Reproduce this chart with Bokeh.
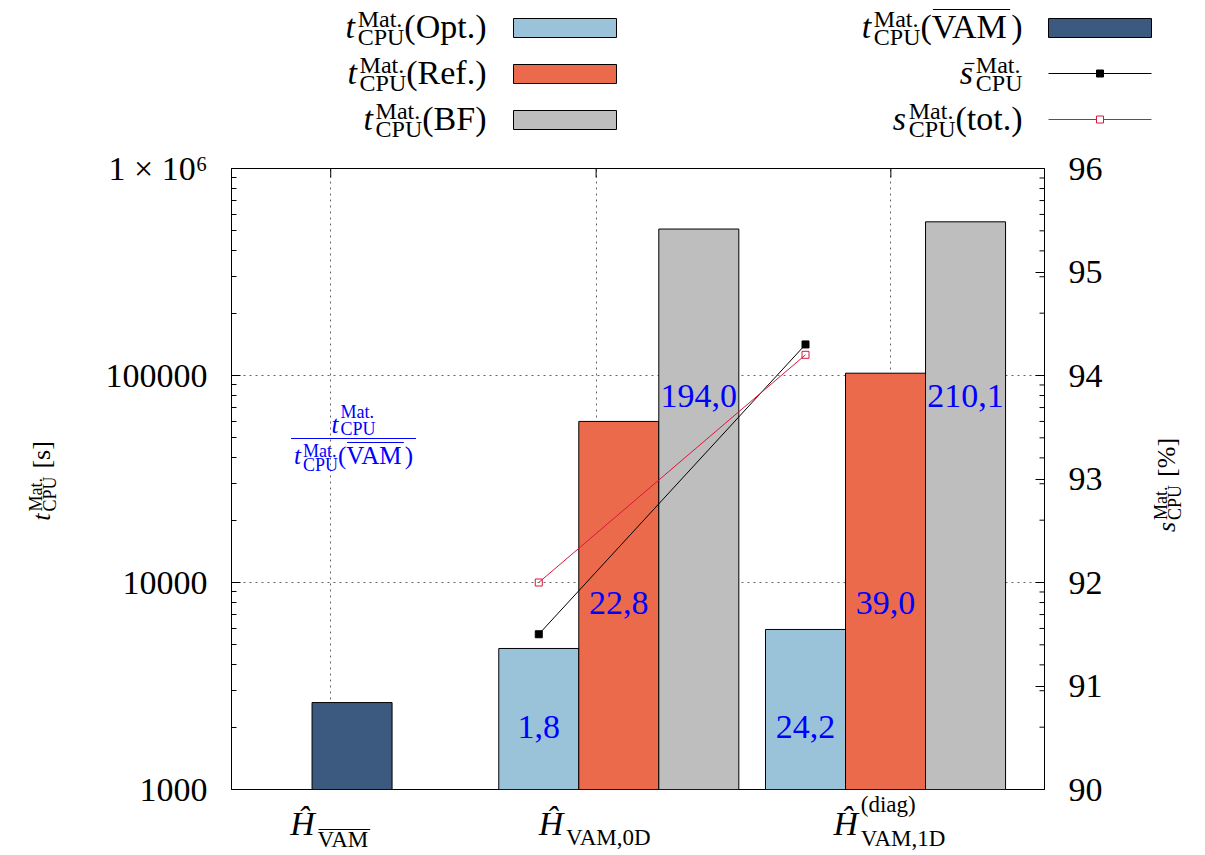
import math
from bokeh.plotting import figure
from bokeh.models import (Range1d, LinearAxis, FixedTicker, Grid, CustomJSTickFormatter,
                          LinearScale)
from bokeh.core.properties import value
from bokeh.embed import file_html
from bokeh.resources import INLINE

FONT = "Liberation Serif"

# ---------------- data ----------------
cluster_pos = [0, 1, 2]
tick_pos = [-0.08, 0.915, 2.02]
t_vam = [2630, None, None]
t_opt = [None, 4800, 5930]
t_ref = [None, 60000, 102600]
t_bf = [None, 510000, 552600]
s_mean = [None, 91.5, 94.3]
s_tot = [None, 92.0, 94.2]
ratio_opt = [None, "1,8", "24,2"]
ratio_ref = [None, "22,8", "39,0"]
ratio_bf = [None, "194,0", "210,1"]
ratio_y = {"opt": 2000, "ref": 8000, "bf": 80000}
y_ticks = [1000, 10000, 100000, 1000000]
y_tick_labels = ["1000", "10000", "100000", "1 × 10⁶"]
s_ticks = [90, 91, 92, 93, 94, 95, 96]

colors = {"opt": "#9ac3da", "ref": "#ec6a4c", "bf": "#bebebe", "vam": "#3c5a80",
          "smean": "black", "stot": "#dc143c", "ann": "#0000ff"}
offsets = {"vam": 0.0, "opt": -0.3, "ref": 0.0, "bf": 0.3}
BAR_W = 0.3

# ---------------- figure ----------------
W, H = 1205, 855
FL, FR, FT, FB = 231, 1044, 168, 789
X0, X1 = -0.452, 2.596

p = figure(width=W, height=H, x_range=Range1d(X0, X1), y_range=Range1d(y_ticks[0], y_ticks[-1]),
           y_axis_type="log", x_axis_location=None, output_backend="svg", toolbar_location=None,
           min_border_left=FL, min_border_right=W - FR, min_border_top=FT, min_border_bottom=H - FB)
p.extra_x_ranges = {"px": Range1d(FL, FR)}
p.extra_x_scales = {"px": LinearScale()}
p.extra_y_ranges = {"py": Range1d(FB, FT), "s": Range1d(s_ticks[0], s_ticks[-1])}
p.extra_y_scales = {"py": LinearScale(), "s": LinearScale()}
p.outline_line_color = "black"
p.outline_line_width = 1
p.background_fill_color = "white"
p.xgrid.visible = False

minor_log = [m * 10 ** e for e in (3, 4, 5) for m in range(2, 10)]
yax = p.yaxis[0]
yax.ticker = FixedTicker(ticks=y_ticks, minor_ticks=minor_log)
yax.formatter = CustomJSTickFormatter(args=dict(t=y_ticks, l=y_tick_labels),
                                      code="const i = t.indexOf(tick); return i < 0 ? '' : l[i];")
rax = LinearAxis(y_range_name="s", ticker=FixedTicker(ticks=s_ticks, minor_ticks=[]))
p.add_layout(rax, "right")
for ax in (yax, rax):
    ax.major_tick_in = 9
    ax.major_tick_out = 0
    ax.minor_tick_in = 5
    ax.minor_tick_out = 0
    ax.axis_line_color = "black"
    ax.major_tick_line_color = "black"
    ax.minor_tick_line_color = "black"
    ax.major_label_text_font = FONT
    ax.major_label_text_font_size = "34px"
    ax.major_label_text_color = "black"
    ax.major_label_standoff = 24

p.ygrid.grid_line_color = "#666666"
p.ygrid.grid_line_dash = "2 4"
p.ygrid.grid_line_width = 1
p.add_layout(Grid(dimension=0, ticker=FixedTicker(ticks=tick_pos), grid_line_color="#666666",
                  grid_line_dash="2 4", grid_line_width=1))

# mirrored tick marks (right side log minors, x ticks bottom / top)
p.segment(x0=[FR - 5] * len(minor_log), x1=[FR] * len(minor_log), y0=minor_log, y1=minor_log,
          x_range_name="px", line_color="black", line_width=1)
p.segment(x0=tick_pos, x1=tick_pos, y0=[FB] * 3, y1=[FB - 9] * 3, y_range_name="py",
          line_color="black", line_width=1)
p.segment(x0=tick_pos, x1=tick_pos, y0=[FT] * 3, y1=[FT + 9] * 3, y_range_name="py",
          line_color="black", line_width=1)


def pts(vals, off):
    xs = [c + off for c, v in zip(cluster_pos, vals) if v is not None]
    ys = [v for v in vals if v is not None]
    return xs, ys


# bars
for key, vals in (("vam", t_vam), ("opt", t_opt), ("ref", t_ref), ("bf", t_bf)):
    xs, ys = pts(vals, offsets[key])
    p.vbar(x=xs, top=ys, bottom=y_ticks[0], width=BAR_W, fill_color=colors[key],
           line_color="black", line_width=1)

# speed-up lines (right axis)
xs, ys = pts(s_mean, offsets["opt"])
p.line(xs, ys, y_range_name="s", line_color=colors["smean"], line_width=1)
p.scatter(xs, ys, y_range_name="s", marker="square", size=7, fill_color=colors["smean"],
          line_color=colors["smean"])
xs, ys = pts(s_tot, offsets["opt"])
p.line(xs, ys, y_range_name="s", line_color=colors["stot"], line_width=1)
p.scatter(xs, ys, y_range_name="s", marker="square", size=7, fill_color=None,
          line_color=colors["stot"], line_width=1)

# ratio labels
for key, labs in (("opt", ratio_opt), ("ref", ratio_ref), ("bf", ratio_bf)):
    xs, ls = pts(labs, offsets[key])
    p.text(x=xs, y=[ratio_y[key]] * len(xs), text=ls, text_align="center", text_baseline="middle",
           text_color=colors["ann"], text_font=value(FONT), text_font_size="34px")

# ---------------- rich text helper ----------------
REG = {' ': .25, '(': .333, ')': .333, '.': .25, ',': .25, '[': .333, ']': .333, '%': .833,
       '×': .564, 'A': .722, 'B': .667, 'C': .667, 'D': .722, 'F': .556, 'H': .722, 'M': .889,
       'O': .722, 'P': .556, 'R': .667, 'U': .722, 'V': .722, 'a': .444, 'd': .5, 'e': .444,
       'f': .333, 'g': .5, 'i': .278, 'o': .5, 'p': .5, 's': .389, 't': .278, 'l': .278}
for _c in "0123456789":
    REG[_c] = .5
IT = {'t': .278, 's': .389, 'Ĥ': .722, 'H': .722}
MID = 0.3375   # distance from alphabetic baseline to "middle" baseline, in em


def tw(text, size, italic=False):
    tab = IT if italic else REG
    return sum(tab.get(c, REG.get(c, .5)) for c in text) * size


def T(text, size, italic=False, over=None):
    return ("t", text, size, italic, over)


def SS(sup, sub, size, up, down, sub_over=None):
    return ("ss", sup, sub, size, up, down, sub_over)


def G(px):
    return ("g", px)


def part_w(pt):
    if pt[0] == "g":
        return pt[1]
    if pt[0] == "t":
        return tw(pt[1], pt[2], pt[3]) + (0.08 * pt[2] if pt[3] else 0)
    return max(tw(pt[1] or "", pt[3]), tw(pt[2] or "", pt[3]))


def rich(parts, x, y, align="left", color="black", angle=0.0):
    widths = [part_w(pt) for pt in parts]
    total = sum(widths)
    adv = {"left": 0.0, "center": -total / 2, "right": -total}[align]
    if angle:
        d, n = (0.0, -1.0), (-1.0, 0.0)
    else:
        d, n = (1.0, 0.0), (0.0, -1.0)

    def pos(a, u):
        return x + a * d[0] + u * n[0], y + a * d[1] + u * n[1]

    def put(text, size, italic, a, u):
        lx, ly = pos(a, u + MID * size)
        p.text(x=[lx], y=[ly], text=[text], x_range_name="px", y_range_name="py",
               text_font=value(FONT), text_font_size=f"{size}px",
               text_font_style="italic" if italic else "normal",
               text_color=color, text_align="left", text_baseline="middle",
               angle=angle, level="overlay")

    def over(a0, a1, u):
        (x0, y0), (x1, y1) = pos(a0, u), pos(a1, u)
        p.segment(x0=[x0], y0=[y0], x1=[x1], y1=[y1], x_range_name="px", y_range_name="py",
                  line_color=color, line_width=1.2, level="overlay")

    for pt, w in zip(parts, widths):
        if pt[0] == "t":
            _, text, size, italic, ov = pt
            put(text, size, italic, adv, 0)
            if ov:
                a0 = adv + (0.14 * size if italic else 0.03 * size)
                a1 = adv + tw(text, size, italic) + (0.04 * size if italic else -0.03 * size)
                over(a0, a1, ov)
        elif pt[0] == "ss":
            _, sup, sub, size, up, down, subov = pt
            if sup:
                put(sup, size, False, adv, up)
            if sub:
                put(sub, size, False, adv, -down)
                if subov:
                    over(adv + 1, adv + tw(sub, size) - 1, -down + subov)
        adv += w
    return total


def to_px(xv):
    return FL + (xv - X0) / (X1 - X0) * (FR - FL)


def box(l, r, t, b, fill, line="black"):
    p.quad(left=[l], right=[r], top=[t], bottom=[b], x_range_name="px", y_range_name="py",
           fill_color=fill, line_color=line, line_width=1, level="overlay")


# ---------------- legend ----------------
LM, LS = 34, 24
leg_left_right = 486
leg_rows = [37, 83, 129]
for name, base in zip(["Opt.", "Ref.", "BF"], leg_rows):
    rich([T("t", LM, True), SS("Mat.", "CPU", LS, 10, 8), T(f"({name})", LM)],
         leg_left_right, base, align="right")
for key, base in zip(["opt", "ref", "bf"], leg_rows):
    box(513, 616, base - 19, base, colors[key])

leg_right_right = 1022
rich([T("t", LM, True), SS("Mat.", "CPU", LS, 10, 8), T("(", LM), T("VAM", LM, over=28), T(")", LM)],
     leg_right_right, leg_rows[0], align="right")
rich([T("s", LM, True, over=20), SS("Mat.", "CPU", LS, 10, 8)],
     leg_right_right, leg_rows[1], align="right")
rich([T("s", LM, True), SS("Mat.", "CPU", LS, 10, 8), T("(tot.)", LM)],
     leg_right_right, leg_rows[2], align="right")
box(1048, 1151, leg_rows[0] - 19, leg_rows[0], colors["vam"])
for key, base, fill in (("smean", leg_rows[1] - 10, colors["smean"]), ("stot", leg_rows[2] - 10, "white")):
    p.line([1048, 1151], [base, base], x_range_name="px", y_range_name="py",
           line_color=colors[key], line_width=1, level="overlay")
    box(1096, 1103, base - 3.5, base + 3.5, fill, colors[key])

# ---------------- axis labels ----------------
rich([T("t", 26, True), SS("Mat.", "CPU", 18, 8, 6), G(8), T("[s]", 26)], 50, (FT + FB) / 2 + 2,
     align="center", angle=math.pi / 2)
rich([T("s", 26, True), SS("Mat.", "CPU", 18, 8, 6), G(8), T("[%]", 26)], 1175, (FT + FB) / 2 + 6,
     align="center", angle=math.pi / 2)

# ---------------- category labels ----------------
cat_parts = [
    [T("Ĥ", 34, True), SS(None, "VAM", 23, 0, 13, sub_over=18)],
    [T("Ĥ", 34, True), SS(None, "VAM,0D", 23, 0, 11)],
    [T("Ĥ", 34, True), SS("(diag)", "VAM,1D", 23, 22, 12)],
]
for tp, parts in zip(tick_pos, cat_parts):
    rich(parts, to_px(tp), 834, align="center")

# ---------------- fraction annotation ----------------
fx = 353
FM, FS = 25, 18
rich([T("t", FM, True), SS("Mat.", "CPU", FS, 14, 3)], fx, 432, align="center", color=colors["ann"])
den_w = rich([T("t", FM, True), SS("Mat.", "CPU", FS, 6, 8), T("(", FM), T("VAM", FM, over=21), T(")", FM)],
             fx, 463, align="center", color=colors["ann"])
p.segment(x0=[fx - den_w / 2 - 3], y0=[438], x1=[fx + den_w / 2 + 3], y1=[438], x_range_name="px",
          y_range_name="py", line_color=colors["ann"], line_width=1.2)

open("out.html", "w").write(file_html(p, INLINE))
